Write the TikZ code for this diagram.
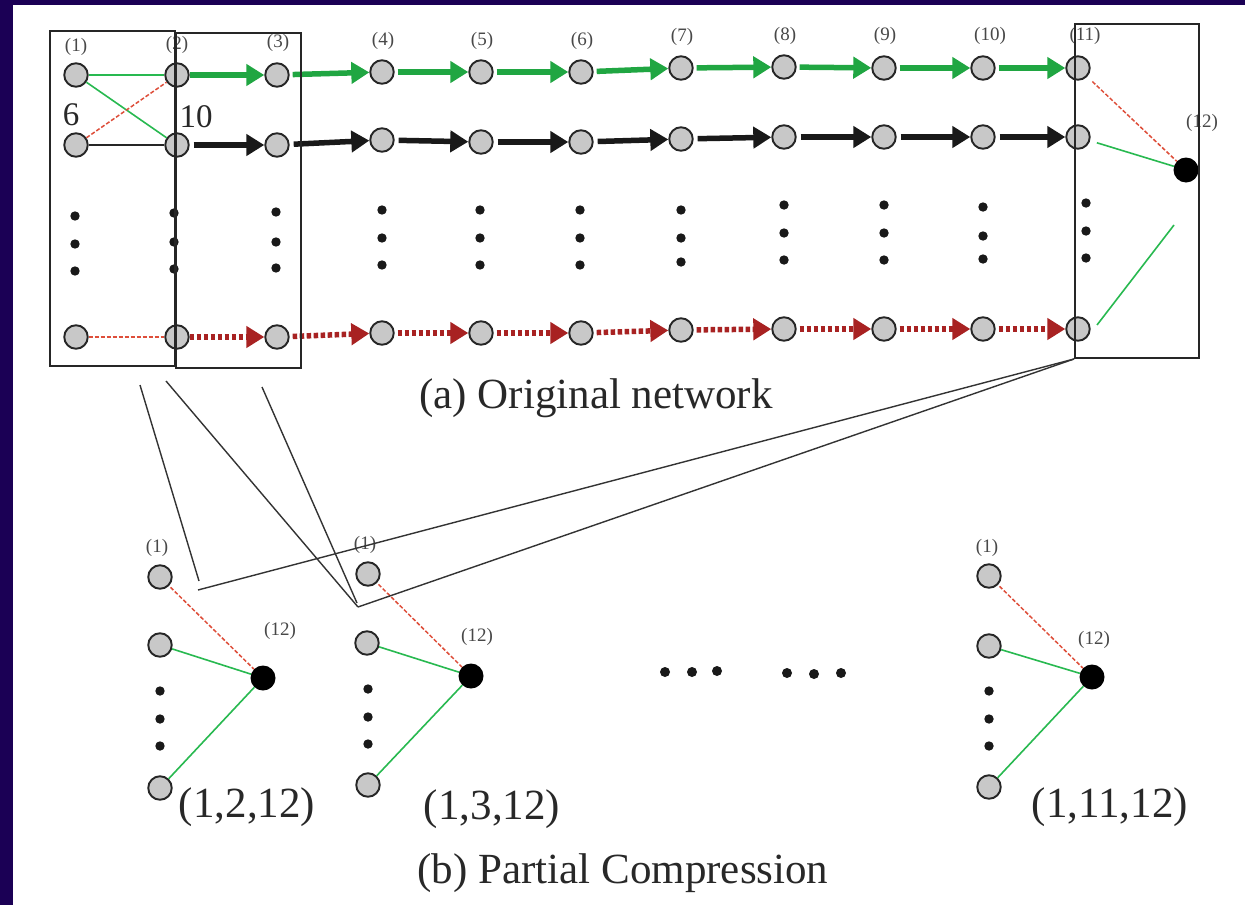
\documentclass[tikz,border=0pt]{standalone}
\usepackage{fontspec}
\setmainfont{Liberation Serif}
\usetikzlibrary{arrows.meta,calc}
\definecolor{navy}{RGB}{27,0,85}
\definecolor{agreen}{RGB}{32,166,66}
\definecolor{tgreen}{RGB}{40,185,80}
\definecolor{ared}{RGB}{168,34,34}
\definecolor{tred}{RGB}{222,78,58}
\definecolor{ngray}{RGB}{200,200,200}
\definecolor{txt}{RGB}{40,40,40}
\begin{document}
\begin{tikzpicture}[x=1pt,y=-1pt,
  gn/.style={circle,draw=black!85,fill=ngray,line width=1.9pt,minimum size=23.5pt,inner sep=0pt},
  bn/.style={circle,fill=black,minimum size=25pt,inner sep=0pt},
  lbl/.style={font=\fontsize{19}{19}\selectfont,text=txt!85,inner sep=0pt},
  num/.style={font=\fontsize{33}{33}\selectfont,text=txt,inner sep=0pt},
  captxt/.style={font=\fontsize{43}{43}\selectfont,text=txt,inner sep=0pt},
  box/.style={draw=black!85,line width=2pt,inner sep=0pt},
  tip/.style={-{Triangle[length=18pt,width=21pt]}},
  garrow/.style={tip,agreen,line width=5.5pt,shorten <=3pt},
  karrow/.style={tip,black!90,line width=5.5pt,shorten <=4pt},
  rarrow/.style={tip,ared,line width=5.5pt,dash pattern=on 4.5pt off 2.5pt,shorten <=3pt},
  tg/.style={tgreen,line width=1.6pt},
  tk/.style={black!85,line width=1.6pt},
  tr/.style={tred,line width=1.5pt,dash pattern=on 4pt off 2pt},
  conn/.style={black!80,line width=1.4pt},
  vdot/.style={black!90},
]
\useasboundingbox (0,0) rectangle (1245,905);
\fill[white] (0,0) rectangle (1245,905);
\fill[navy] (0,0) rectangle (13,905);
\fill[navy] (0,0) rectangle (1245,5);

% ---- top network nodes ----
\foreach \n/\x/\ya/\yb/\yc in {1/76/75/145/337,2/177/75/145/337,3/277/75/145/337,
  4/382/72/140/333,5/481/72/142/333,6/581/72/142/333,7/681/68/139/330,
  8/784/67/137/329,9/884/68/137/329,10/983/68/137/329,11/1078/68/137/329}{
  \node[gn] (a\n) at (\x,\ya) {};
  \node[gn] (b\n) at (\x,\yb) {};
  \node[gn] (c\n) at (\x,\yc) {};
}
\node[bn] (n12) at (1186,170) {};

% labels
\foreach \t/\x/\y in {(1)/76/47,(2)/177/45,(3)/278/43,(4)/383/41,(5)/482/41,(6)/582/41,
  (7)/682/37,(8)/785/36,(9)/885/36,(10)/990/36,(11)/1085/36,(12)/1202/123}{
  \node[lbl] at (\x,\y) {\t};
}
\node[num] (six) at (71,115) {6};
\node[num] (ten) at (196,117) {10};

% vertical ellipses
\foreach \x/\p/\q/\r in {75/216/244/271,174/213/242/269,276/212/242/268,382/210/238/265,
  480/210/238/265,580/210/238/265,681/210/238/262,784/205/233/260,884/205/233/260,
  983/207/236/259,1086/203/231/258}{
  \fill[vdot] (\x,\p) circle (4.7pt);
  \fill[vdot] (\x,\q) circle (4.7pt);
  \fill[vdot] (\x,\r) circle (4.7pt);
}

% thin edges in first box
\draw[tg] (a1) -- (a2);
\draw[tg] (a1) -- (b2);
\draw[tr] (b1) -- (a2);
\draw[tk] (b1) -- (b2);
\draw[tr] (c1) -- (c2);

% thick arrows
\draw[garrow,shorten <=0pt] (a2) -- (a3);
\draw[karrow] (b2) -- (b3);
\draw[rarrow,shorten <=0pt] (c2) -- (c3);
\foreach \i/\j in {3/4,4/5,5/6,6/7,7/8,8/9,9/10,10/11}{
  \draw[garrow] (a\i) -- (a\j);
  \draw[karrow] (b\i) -- (b\j);
  \draw[rarrow] (c\i) -- (c\j);
}

% edges to node 12
\draw[tr,shorten <=7pt] (a11) -- (n12);
\draw[tg,shorten <=7pt] (b11) -- (n12);
\coordinate (g1) at (1097,325);
\coordinate (g2) at (1174,225);
\draw[tg] (g1) -- (g2);

% boxes
\node[box,minimum width=125pt,minimum height=335pt] (box1) at (112.5,198.5) {};
\node[box,minimum width=125pt,minimum height=335pt] (box2) at (238.5,200.5) {};
\node[box,minimum width=124pt,minimum height=334pt] (box3) at (1137,191) {};

\node[captxt] (capa) at (596,398) {(a) Original network};

% ---- partial compression ----
% group 1
\node[gn] (s1) at (160,577) {};
\node[gn] (s2) at (160,645) {};
\node[gn] (s3) at (160,788) {};
\node[bn] (k1) at (263,678) {};
\foreach \y in {691,719,746}{\fill[vdot] (160,\y) circle (4.7pt);}
\node[lbl] at (157,548) {(1)};
\node[lbl] at (280,631) {(12)};
\node[captxt] at (247,807) {(1,2,12)};
\draw[tr,shorten <=2pt] (s1) -- (k1);
\draw[tg] (s2) -- (k1);
\draw[tg] (s3) -- (k1);
% group 2
\node[gn] (t1) at (368,574) {};
\node[gn] (t2) at (367,643) {};
\node[gn] (t3) at (368,785) {};
\node[bn] (k2) at (471,676) {};
\foreach \y in {689,717,744}{\fill[vdot] (368,\y) circle (4.7pt);}
\node[lbl] at (365,545) {(1)};
\node[lbl] at (477,637) {(12)};
\node[captxt] at (492,809) {(1,3,12)};
\draw[tr,shorten <=2pt] (t1) -- (k2);
\draw[tg] (t2) -- (k2);
\draw[tg] (t3) -- (k2);
% group 3
\node[gn] (u1) at (989,576) {};
\node[gn] (u2) at (989,646) {};
\node[gn] (u3) at (989,787) {};
\node[bn] (k3) at (1092,677) {};
\foreach \y in {691,719,746}{\fill[vdot] (989,\y) circle (4.7pt);}
\node[lbl] at (987,548) {(1)};
\node[lbl] at (1094,640) {(12)};
\node[captxt] at (1110,807) {(1,11,12)};
\draw[tr,shorten <=2pt] (u1) -- (k3);
\draw[tg] (u2) -- (k3);
\draw[tg] (u3) -- (k3);

% horizontal ellipses
\foreach \x/\y in {665/672,692/672,717/671,787/673,814/674,841/673}{
  \fill[vdot] (\x,\y) circle (5pt);
}

% connector lines
\coordinate (pa) at (140,385);
\coordinate (qa) at (199,581);
\coordinate (pb) at (166,381);
\coordinate (qb) at (358,607);
\coordinate (pc) at (262,387);
\coordinate (qc) at (357,603);
\coordinate (pd) at (198,590);
\draw[conn] (pa) -- (qa);
\draw[conn] (pb) -- (qb);
\draw[conn] (pc) -- (qc);
\draw[conn] (pd) -- (box3.south west);
\draw[conn] (qb) -- (box3.south west);

\node[captxt] (capb) at (623,873) {(b) Partial Compression};
\end{tikzpicture}
\end{document}
